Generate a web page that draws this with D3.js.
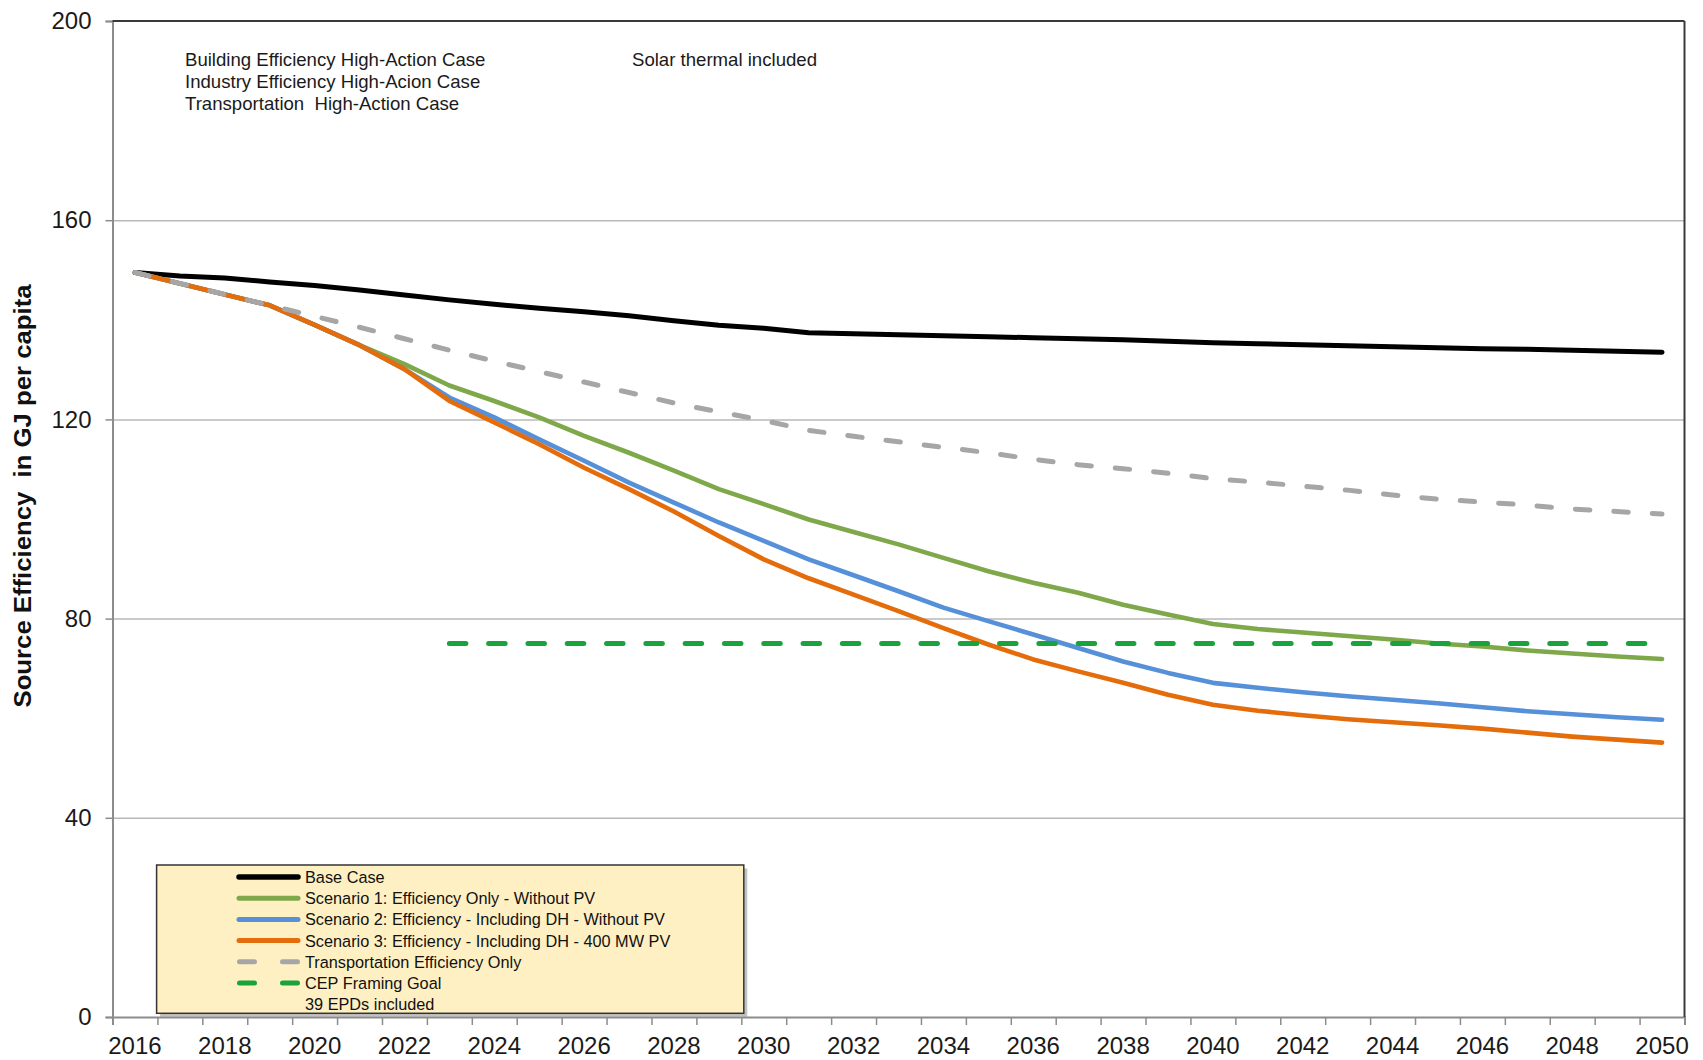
<!DOCTYPE html>
<html>
<head>
<meta charset="utf-8">
<script src="https://cdn.jsdelivr.net/npm/d3@7"></script>
<style>
  html, body { margin: 0; padding: 0; background: #fff; }
  svg { display: block; font-family: "Liberation Sans", Arial, sans-serif; }
</style>
</head>
<body>
<svg id="chart" width="1703" height="1060"></svg>
<script>
// ---------- data ----------
const years = [2016,2017,2018,2019,2020,2021,2022,2023,2024,2025,2026,2027,2028,2029,2030,2031,2032,2033,
               2034,2035,2036,2037,2038,2039,2040,2041,2042,2043,2044,2045,2046,2047,2048,2049,2050];
const xTickLabels = [2016,2018,2020,2022,2024,2026,2028,2030,2032,2034,2036,2038,2040,2042,2044,2046,2048,2050];
const yTicks = [0, 40, 80, 120, 160, 200];

const baseCase = [149.5,148.8,148.4,147.6,146.9,146.0,145.0,144.0,143.1,142.3,141.6,140.8,139.8,138.9,138.3,137.4,137.2,137.0,
                  136.8,136.6,136.4,136.2,136.0,135.7,135.4,135.2,135.0,134.8,134.6,134.4,134.2,134.1,133.9,133.7,133.5];
const scenario1 = [149.5,147.3,145.1,142.9,139.0,134.9,131.1,126.8,123.7,120.4,116.7,113.3,109.7,106.0,103.0,99.9,97.4,94.9,
                   92.2,89.5,87.2,85.2,82.8,80.8,78.9,77.9,77.2,76.5,75.8,75.0,74.4,73.6,73.0,72.4,71.9];
const scenario2 = [149.5,147.3,145.1,142.9,139.0,134.9,130.1,124.4,120.4,116.0,111.7,107.3,103.3,99.3,95.6,91.9,88.7,85.5,
                   82.2,79.5,76.8,74.1,71.4,69.1,67.1,66.1,65.2,64.4,63.7,63.0,62.2,61.4,60.8,60.2,59.7];
const scenario3 = [149.5,147.3,145.1,142.9,139.0,134.9,130.1,123.7,119.4,115.0,110.3,106.0,101.5,96.6,91.9,88.1,84.8,81.5,
                   78.1,74.8,71.8,69.4,67.1,64.7,62.7,61.5,60.6,59.8,59.2,58.6,57.9,57.1,56.3,55.7,55.1];
const transportOnly = [149.5,147.3,145.1,142.9,140.7,138.5,136.2,133.9,131.7,129.6,127.5,125.4,123.3,121.5,119.8,117.8,116.6,115.5,
                       114.4,113.3,112.0,110.9,110.1,109.2,108.1,107.4,106.6,105.8,104.8,104.0,103.4,102.8,102.0,101.5,101.0];
const goalYears = [2023, 2050];
const goalValues = [75, 75];

const seriesNames = ["Base Case",
  "Scenario 1: Efficiency Only - Without PV",
  "Scenario 2: Efficiency - Including DH - Without PV",
  "Scenario 3: Efficiency - Including DH - 400 MW PV",
  "Transportation Efficiency Only",
  "CEP Framing Goal"];
const legendNote = "39 EPDs included";
const annotationLines = ["Building Efficiency High-Action Case",
  "Industry Efficiency High-Acion Case",
  "Transportation  High-Action Case"];
const annotation2 = "Solar thermal included";
const yTitle = "Source Efficiency  in GJ per capita";

// ---------- layout ----------
const L = 112.5, R = 1684.5, T = 21, B = 1017;
const svg = d3.select("#chart");

const x = d3.scaleBand().domain(years).range([L, R]).paddingInner(0).paddingOuter(0);
const bw = x.bandwidth();
const xc = yr => x(yr) + bw / 2;
const xEdge = d3.scaleLinear().domain([2015.5, 2050.5]).range([L, R]);
const y = d3.scaleLinear().domain([0, 200]).range([B, T]);

// gridlines
svg.append("g")
  .attr("transform", `translate(${L},0)`)
  .call(d3.axisLeft(y).tickValues(yTicks.filter(v => v > 0 && v < 200)).tickSize(-(R - L)).tickFormat(""))
  .call(g => g.select(".domain").remove())
  .call(g => g.selectAll("line").attr("stroke", "#b8b8b8").attr("stroke-width", 1.5));

// y axis
svg.append("g")
  .attr("transform", `translate(${L},0)`)
  .call(d3.axisLeft(y).tickValues(yTicks).tickSize(7).tickPadding(14))
  .call(g => g.select(".domain").attr("stroke", "#8c8c8c").attr("stroke-width", 2))
  .call(g => g.selectAll(".tick line").attr("stroke", "#8c8c8c").attr("stroke-width", 1.5))
  .call(g => g.selectAll("text").attr("font-size", 24).attr("fill", "#1a1a1a")
      .attr("font-family", "'Liberation Sans', Arial, sans-serif"));

// x axis ticks at band edges
svg.append("g")
  .attr("transform", `translate(0,${B})`)
  .call(d3.axisBottom(xEdge).tickValues(years.map(v => v - 0.5).concat([2050.5])).tickSize(8).tickFormat(""))
  .call(g => g.select(".domain").attr("stroke", "#8c8c8c").attr("stroke-width", 2))
  .call(g => g.selectAll(".tick line").attr("stroke", "#8c8c8c").attr("stroke-width", 1.5));

// x labels
svg.append("g")
  .attr("transform", `translate(0,${B})`)
  .call(d3.axisBottom(x).tickValues(xTickLabels).tickSize(0).tickPadding(20))
  .call(g => g.select(".domain").remove())
  .call(g => g.selectAll("text").attr("font-size", 24).attr("fill", "#1a1a1a")
      .attr("font-family", "'Liberation Sans', Arial, sans-serif"));

// top and right borders
svg.append("line").attr("x1", L).attr("x2", R).attr("y1", y(200)).attr("y2", y(200))
  .attr("stroke", "#3a3a3a").attr("stroke-width", 2);
svg.append("line").attr("x1", R).attr("x2", R).attr("y1", y(200)).attr("y2", y(0))
  .attr("stroke", "#3a3a3a").attr("stroke-width", 2);

// y title
svg.append("text")
  .attr("transform", `translate(31,496) rotate(-90)`)
  .attr("text-anchor", "middle")
  .attr("font-size", 24.5).attr("font-weight", "bold").attr("fill", "#111")
  .attr("textLength", 423).attr("lengthAdjust", "spacingAndGlyphs")
  .style("white-space", "pre")
  .text(yTitle);

// annotations
const ann = svg.append("text").attr("font-size", 18.6).attr("fill", "#1a1a1a").style("white-space", "pre");
annotationLines.forEach((t, i) => {
  ann.append("tspan").attr("x", 185).attr("y", 65.7 + i * 22.3).text(t);
});
svg.append("text").attr("x", 632).attr("y", 65.7).attr("font-size", 18.6).attr("fill", "#1a1a1a").text(annotation2);

// series
const colors = ["#000000", "#7ea84a", "#5590d8", "#e46c0a", "#a6a6a6", "#1aa33c"];
const widths = [5, 4.6, 4.6, 4.6, 5, 5];
const dashes = [null, null, null, null, "14.5 24", "16.5 22.8"];
const seriesData = [baseCase, scenario1, scenario2, scenario3, transportOnly];

const line = d3.line().x(d => xc(d[0])).y(d => y(d[1]));
[0, 1, 2, 3, 4].forEach(i => {
  svg.append("path")
    .datum(years.map((yr, k) => [yr, seriesData[i][k]]))
    .attr("d", line)
    .attr("fill", "none")
    .attr("stroke", colors[i])
    .attr("stroke-width", widths[i])
    .attr("stroke-linejoin", "round")
    .attr("stroke-linecap", "round")
    .attr("stroke-dasharray", dashes[i]);
});
svg.append("path")
  .datum(goalYears.map((yr, k) => [yr, goalValues[k]]))
  .attr("d", line)
  .attr("fill", "none")
  .attr("stroke", colors[5])
  .attr("stroke-width", widths[5])
  .attr("stroke-linecap", "round")
  .attr("stroke-dasharray", dashes[5]);

// legend
const lg = svg.append("g");
const lx = 156.6, ly = 865, lw = 587.2, lh = 148.3;
lg.append("rect").attr("x", lx + 3.5).attr("y", ly + 3.5).attr("width", lw).attr("height", lh)
  .attr("fill", "#9a9a9a").attr("opacity", 0.6);
lg.append("rect").attr("x", lx).attr("y", ly).attr("width", lw).attr("height", lh)
  .attr("fill", "#fef0c2").attr("stroke", "#333").attr("stroke-width", 1.5);
const rowY = i => 877 + i * 21.2;
seriesNames.forEach((name, i) => {
  const isDash = dashes[i] !== null;
  lg.append("line")
    .attr("x1", isDash ? 239.5 : 239).attr("x2", isDash ? 297.5 : 298)
    .attr("y1", rowY(i)).attr("y2", rowY(i))
    .attr("stroke", colors[i]).attr("stroke-width", i === 0 ? 5.5 : 5)
    .attr("stroke-linecap", "round")
    .attr("stroke-dasharray", isDash ? "15 28" : null);
  lg.append("text").attr("x", 305).attr("y", rowY(i) + 6)
    .attr("font-size", 16.3).attr("fill", "#111").style("white-space", "pre").text(name);
});
lg.append("text").attr("x", 305).attr("y", rowY(6) + 6)
  .attr("font-size", 16.3).attr("fill", "#111").text(legendNote);
</script>
</body>
</html>
